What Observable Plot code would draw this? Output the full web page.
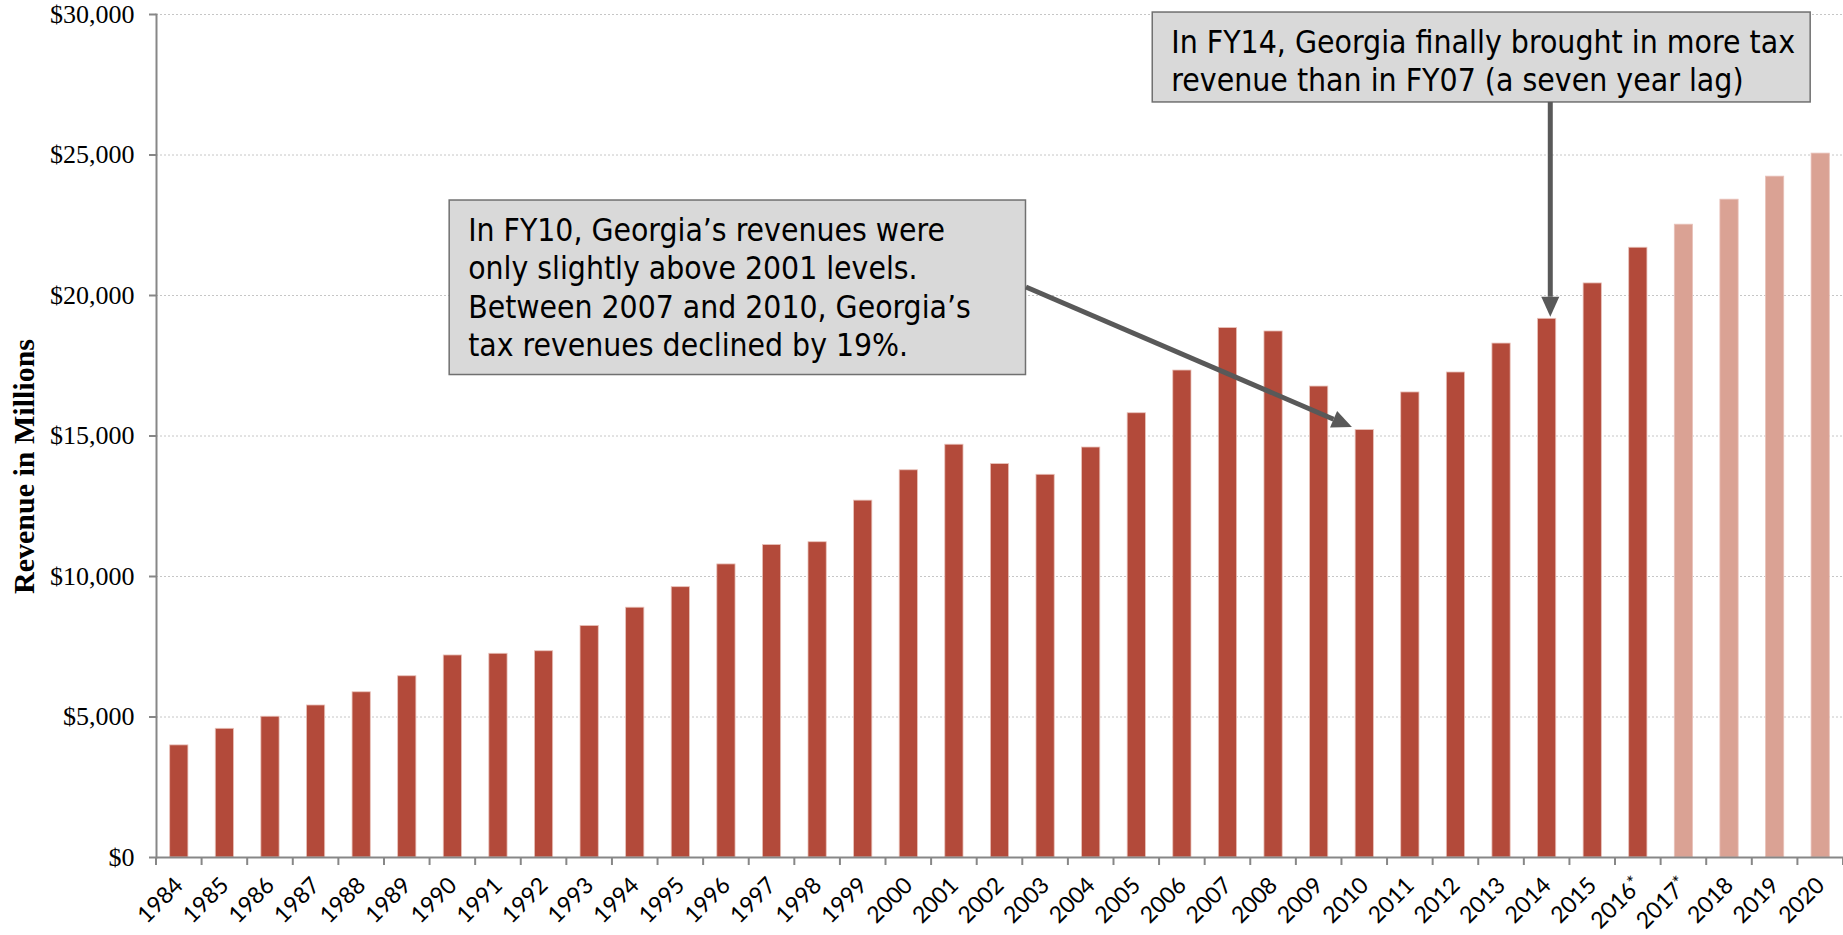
<!DOCTYPE html>
<html>
<head>
<meta charset="utf-8">
<script src="https://cdn.jsdelivr.net/npm/d3@7"></script>
<script src="https://cdn.jsdelivr.net/npm/@observablehq/plot@0.6"></script>
<style>
html, body { margin: 0; padding: 0; background: #ffffff; }
#chart { position: relative; width: 1843px; height: 935px; overflow: hidden; }
</style>
</head>
<body>
<div id="chart"></div>
<script>
// ---- Data ----
const years = ["1984","1985","1986","1987","1988","1989","1990","1991","1992","1993",
  "1994","1995","1996","1997","1998","1999","2000","2001","2002","2003","2004","2005",
  "2006","2007","2008","2009","2010","2011","2012","2013","2014","2015","2016*","2017*",
  "2018","2019","2020"];
const revenue = [3990,4580,5010,5410,5880,6450,7190,7250,7340,8240,
  8890,9620,10430,11120,11220,12700,13780,14690,14000,13620,14590,15810,
  17330,18840,18720,16760,15210,16550,17260,18290,19170,20430,21700,22520,
  23410,24230,25050];
const status = ["actual","actual","actual","actual","actual","actual","actual","actual","actual","actual",
  "actual","actual","actual","actual","actual","actual","actual","actual","actual","actual","actual","actual",
  "actual","actual","actual","actual","actual","actual","actual","actual","actual","actual","actual","projected",
  "projected","projected","projected"];
const yTicks = [0,5000,10000,15000,20000,25000,30000];
const gridValues = [5000,10000,15000,20000,25000,30000];
const yTitle = "Revenue in Millions";

// Annotations (anchored in data space: band index along x, revenue along y)
const noteTexts = [
  ["In FY10, Georgia\u2019s revenues were","only slightly above 2001 levels.","Between 2007 and 2010, Georgia\u2019s","tax revenues declined by 19%."],
  ["In FY14, Georgia finally brought in more tax","revenue than in FY07 (a seven year lag)"]
];
const noteBoxes = [
  {i1: 6.43, i2: 19.07, v1: 23380, v2: 17170},
  {i1: 21.85, i2: 36.28, v1: 30070, v2: 26870}
];
const noteArrows = [
  {fromI: 19.08, fromV: 20285, toI: 26.23, toV: 15300},
  {fromI: 30.58, fromV: 26870, toI: 30.58, toV: 19230}
];

const data = years.map((y, i) => ({year: y, revenue: revenue[i], status: status[i]}));

const chart = Plot.plot({
  width: 1843,
  height: 935,
  marginLeft: 156,
  marginRight: 0,
  marginTop: 14,
  marginBottom: 78,
  style: {background: "transparent", overflow: "visible"},
  x: {type: "band", domain: years, paddingInner: 0.6, paddingOuter: 0.3, round: false, label: null},
  y: {domain: [0, 30000], label: null},
  color: {domain: ["actual","projected"], range: ["#B34A3A","#DAA294"]},
  marks: [
    Plot.ruleY(gridValues, {stroke: "#c6c6c6", strokeWidth: 1, strokeDasharray: "2,2"}),
    Plot.barY(data, {x: "year", y: "revenue", fill: "status", stroke: "#e9c2ba", strokeWidth: 0.8}),
    Plot.ruleY([0], {stroke: "#878787", strokeWidth: 2}),
    Plot.frame({anchor: "left", stroke: "#878787", strokeWidth: 2}),
    Plot.axisY({ticks: yTicks, tickFormat: d => "$" + d3.format(",")(d), tickSize: 7, tickPadding: 15,
      fontSize: 26, fontFamily: "Liberation Serif", stroke: "#878787", strokeWidth: 2, fill: "#000", label: null}),
    Plot.axisX({tickSize: 0, tickRotate: -45, tickPadding: 27, dx: 0, dy: -3,
      fontSize: 23, fontFamily: "Lato", fill: "#000", label: null})
  ]
});
document.getElementById("chart").appendChild(chart);

// ---- Overlay using Plot's own scales ----
const svg = d3.select(chart);
const xs = chart.scale("x"), ys = chart.scale("y");
const left0 = xs.apply(years[0]) - (xs.step - xs.bandwidth) / 2;
const px = i => left0 + i * xs.step;
const py = v => ys.apply(v);

// raised, slightly smaller asterisk on the x labels (as in the reference)
svg.selectAll('g[aria-label="x-axis tick label"] text').each(function () {
  const t = d3.select(this);
  const s = t.text();
  if (s.endsWith("*")) {
    t.text(s.slice(0, -1));
    t.append("tspan").attr("font-size", "0.8em").attr("dy", "-0.25em").text("*");
  }
});

// boundary ticks on x axis
const g = svg.append("g");
for (let i = 0; i <= years.length; i++) {
  g.append("line").attr("x1", px(i)).attr("x2", px(i)).attr("y1", py(0)).attr("y2", py(0) + 8)
    .attr("stroke", "#878787").attr("stroke-width", 2);
}

// y axis title
const y0 = (py(0) + py(30000)) / 2 + 31;
svg.append("text").attr("transform", `translate(34,${y0}) rotate(-90)`)
  .attr("text-anchor", "middle").attr("font-family", "Liberation Serif").attr("font-weight", "bold")
  .attr("font-size", 30).attr("fill", "#000").text(yTitle);

// font fitting for notes (Tahoma substitute)
const noteFont = "DejaVu Sans Condensed";
const ctx = document.createElement("canvas").getContext("2d");
function widthAt(txt, size) { ctx.font = `${size}px "${noteFont}"`; return ctx.measureText(txt).width; }

const targetWidths = [477, 624];
noteBoxes.forEach((b, k) => {
  const x1 = px(b.i1), x2 = px(b.i2), yA = py(b.v1), yB = py(b.v2);
  const ng = svg.append("g").attr("text-anchor", "start");
  ng.append("rect").attr("x", x1).attr("y", yA).attr("width", x2 - x1).attr("height", yB - yA)
    .attr("fill", "#d9d9d9").attr("stroke", "#707070").attr("stroke-width", 1.5);
  const fs = 30 * targetWidths[k] / widthAt(noteTexts[k][0], 30);
  noteTexts[k].forEach((line, j) => {
    ng.append("text").attr("x", x1 + 19).attr("y", yA + 41 + j * 38.3)
      .attr("text-anchor", "start")
      .attr("font-family", noteFont).attr("font-size", fs).attr("fill", "#000").text(line);
  });
});

// arrows
noteArrows.forEach(a => {
  const x1 = px(a.fromI), y1 = py(a.fromV), x2 = px(a.toI), y2 = py(a.toV);
  const dx = x2 - x1, dy = y2 - y1, len = Math.hypot(dx, dy);
  const ux = dx / len, uy = dy / len;
  const head = 20, half = 9;
  const bx = x2 - ux * head, by = y2 - uy * head;
  svg.append("line").attr("x1", x1).attr("y1", y1).attr("x2", bx).attr("y2", by)
    .attr("stroke", "#595959").attr("stroke-width", 5);
  const pts = [[x2, y2], [bx - uy * half, by + ux * half], [bx + uy * half, by - ux * half]];
  svg.append("polygon").attr("points", pts.map(p => p.join(",")).join(" ")).attr("fill", "#595959");
});
</script>
</body>
</html>
